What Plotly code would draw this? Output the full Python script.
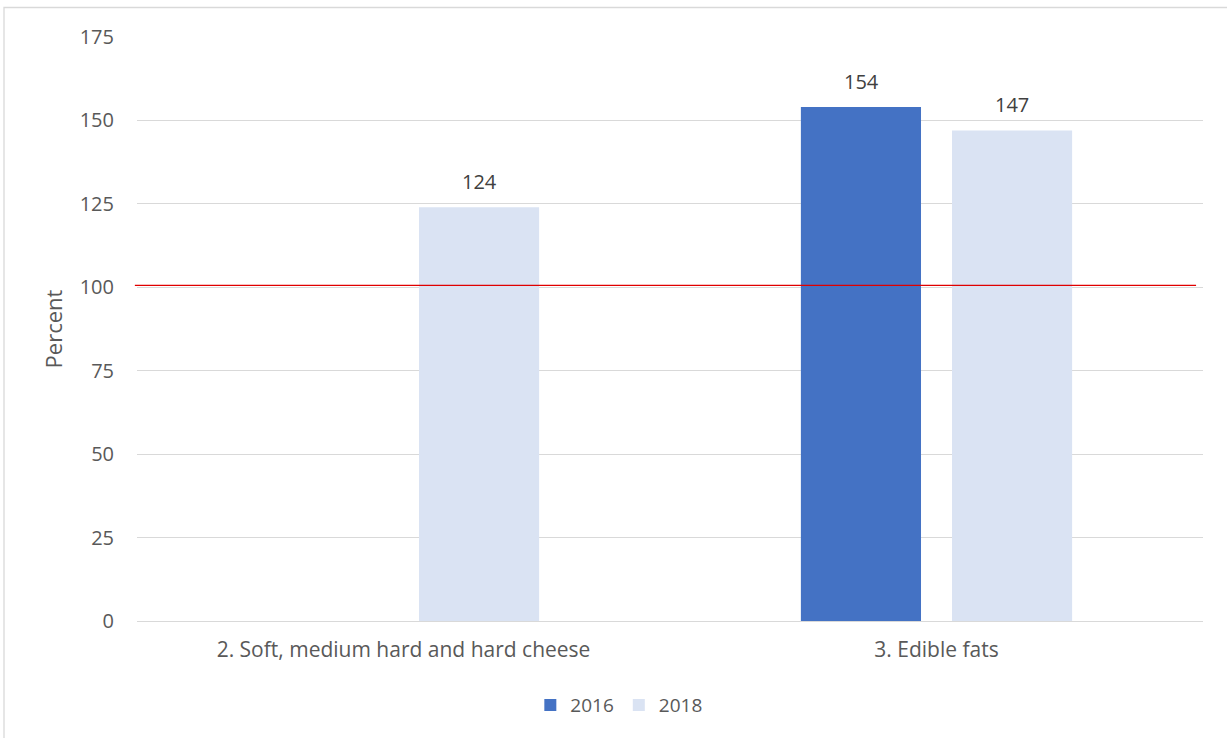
import plotly.graph_objects as go

categories = ["2. Soft, medium hard and hard cheese", "3. Edible fats"]
values_2016 = [None, 154]
values_2018 = [124, 147]
reference_level = 100
y_ticks = [0, 25, 50, 75, 100, 125, 150, 175]

TEXT = "#595959"
LABEL = "#404040"
FONT = "Open Sans"

fig = go.Figure()
fig.add_trace(go.Bar(name="2016", x=categories, y=values_2016, marker_color="#4472C4",
                     marker_line_width=0))
fig.add_trace(go.Bar(name="2018", x=categories, y=values_2018, marker_color="#DAE3F3",
                     marker_line_width=0))

# value labels above each bar, offset by group position
for offset, series in ((-0.5, values_2016), (0.5, values_2018)):
    for i, v in enumerate(series):
        if v is None:
            continue
        fig.add_annotation(x=i, y=v, xref="x", yref="y", text=str(v),
                           showarrow=False, yanchor="bottom", yshift=10,
                           xshift=offset * 151,
                           font=dict(size=20, color=LABEL, family=FONT))

# reference line across the plot
fig.add_shape(type="line", xref="paper", yref="y", x0=-0.002, x1=0.9935,
              y0=reference_level + 0.6, y1=reference_level + 0.6,
              line=dict(color="#E00000", width=1.3), layer="above")

# outer chart frame
L, R, T, B = 137, 24, 37, 117
W, H = 1227 - L - R, 738 - T - B
fig.add_shape(type="rect", xref="paper", yref="paper",
              x0=(4 - L) / W, x1=(1240 - L) / W,
              y0=-(B + 10) / H, y1=1 + (T - 7.5) / H,
              line=dict(color="#D9D9D9", width=1.3), fillcolor="rgba(0,0,0,0)")

fig.update_layout(
    width=1227, height=738,
    margin=dict(l=L, r=R, t=T, b=B),
    paper_bgcolor="white", plot_bgcolor="white",
    barmode="group", bargap=0.433, bargroupgap=0.205,
    font=dict(family=FONT, color=TEXT, size=20),
    showlegend=True,
    legend=dict(orientation="h", x=0.452, xanchor="center", y=-0.144, yanchor="middle",
                font=dict(size=19, color=TEXT), traceorder="normal",
                itemwidth=30, itemsizing="constant"),
    xaxis=dict(showgrid=False, showline=False, ticks="", ticklabelstandoff=14,
               tickfont=dict(size=21, color=TEXT)),
    yaxis=dict(range=[0, 175], tickvals=y_ticks, showgrid=True, gridcolor="#D9D9D9",
               gridwidth=1.3, zeroline=True, zerolinecolor="#D9D9D9", zerolinewidth=1.3,
               ticks="", ticklabelstandoff=22, tickfont=dict(size=20, color=TEXT),
               title=dict(text="Percent", font=dict(size=22, color=TEXT), standoff=10)),
)

fig.write_html("out.html")
